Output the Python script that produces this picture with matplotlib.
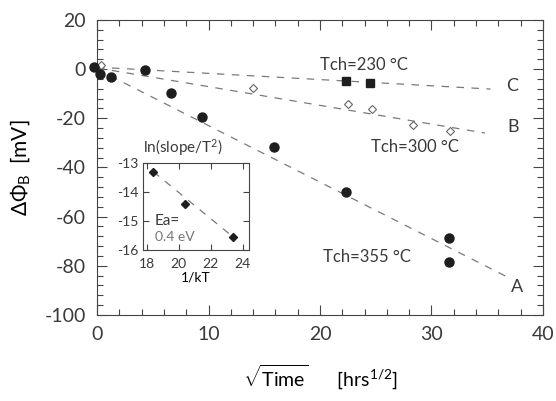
import matplotlib
matplotlib.use("Agg")
import matplotlib.pyplot as plt
from matplotlib.ticker import MultipleLocator

# Tch = 355 C, filled circles (curve A)
a_x = [-0.3, 0.3, 1.25, 4.3, 6.6, 9.4, 15.9, 22.3, 31.6, 31.6]
a_y = [1.0, -1.8, -3.2, -0.5, -9.7, -19.5, -31.7, -50.0, -68.7, -78.4]
# Tch = 300 C, open diamonds (curve B)
b_x = [0.4, 14.0, 22.5, 24.7, 28.3, 31.7]
b_y = [1.5, -7.8, -14.2, -16.2, -22.7, -25.2]
# Tch = 230 C, filled squares (curve C)
c_x = [22.3, 24.5]
c_y = [-4.8, -5.6]

# dashed guide lines (start, end)
fit_a_x, fit_a_y = [0, 37], [0, -85]
fit_b_x, fit_b_y = [0, 34.8], [0.5, -26]
fit_c_x, fit_c_y = [0, 35.3], [0.8, -8.1]

# Arrhenius inset
inv_kt = [18.4, 20.4, 23.4]
ln_slope = [-13.3, -14.4, -15.55]

txt = "#3a3a3a"
dash = "#7a7a7a"
plt.rcParams["font.family"] = ["Lato", "DejaVu Sans"]
plt.rcParams["mathtext.fontset"] = "custom"
plt.rcParams["mathtext.rm"] = "Lato"
plt.rcParams["mathtext.it"] = "Lato:italic"
plt.rcParams["text.color"] = txt
plt.rcParams["axes.edgecolor"] = "#444444"
plt.rcParams["xtick.color"] = "#444444"
plt.rcParams["ytick.color"] = "#444444"
plt.rcParams["xtick.labelcolor"] = txt
plt.rcParams["ytick.labelcolor"] = txt

fig = plt.figure(figsize=(5.56, 4.01), dpi=100)
ax = fig.add_axes([0.1745, 0.2145, 0.802, 0.7357])

ls = (0, (6, 6))
ax.plot(fit_a_x, fit_a_y, color=dash, lw=0.9, ls=ls)
ax.plot(fit_b_x, fit_b_y, color=dash, lw=0.9, ls=ls)
ax.plot(fit_c_x, fit_c_y, color=dash, lw=0.9, ls=ls)

ax.plot(a_x, a_y, "o", color="#1e1e1e", ms=6.5, ls="none", clip_on=False, zorder=4)
ax.plot(b_x, b_y, "D", mfc="white", mec="#666666", mew=0.8, ms=4.5, ls="none")
ax.plot(c_x, c_y, "s", color="#1e1e1e", ms=5.5, ls="none")

ax.text(23.9, 1.8, "Tch=230 °C", fontsize=12, ha="center", va="center")
ax.text(28.5, -31.7, "Tch=300 °C", fontsize=12, ha="center", va="center")
ax.text(24.2, -76.4, "Tch=355 °C", fontsize=12, ha="center", va="center")
ax.text(37.2, -7.0, "C", fontsize=13, ha="center", va="center")
ax.text(37.3, -23.5, "B", fontsize=13, ha="center", va="center")
ax.text(37.7, -88.6, "A", fontsize=13, ha="center", va="center")

ax.set_xlim(0, 40)
ax.set_ylim(-100, 20)
ax.xaxis.set_major_locator(MultipleLocator(10))
ax.xaxis.set_minor_locator(MultipleLocator(2))
ax.yaxis.set_major_locator(MultipleLocator(20))
ax.yaxis.set_minor_locator(MultipleLocator(4))
ax.tick_params(which="both", direction="in", top=True, right=True, labelsize=14, pad=8)
ax.tick_params(which="major", length=7, width=0.8)
ax.tick_params(which="minor", length=4, width=0.8)
ax.set_yticklabels([f"{v:g}" for v in ax.get_yticks()])

ax.set_ylabel(r"$\Delta\Phi_\mathrm{B}$  [mV]", fontsize=15, labelpad=9)
ax.set_xlabel(r"$\sqrt{\mathrm{Time}}$      [hrs$^{1/2}$]", fontsize=14, labelpad=14)

ins = fig.add_axes([0.257, 0.3766, 0.191, 0.217])
ins.plot([inv_kt[0], inv_kt[-1]], [ln_slope[0], ln_slope[-1]], color=dash, lw=0.9, ls=ls)
ins.plot(inv_kt, ln_slope, "D", color="#1e1e1e", ms=4.5, ls="none")
ins.set_xlim(17.75, 24.4)
ins.set_ylim(-16, -13)
ins.set_xticks([18, 20, 22, 24])
ins.set_yticks([-13, -14, -15, -16])
ins.set_yticklabels(["-13", "-14", "-15", "-16"])
ins.tick_params(direction="in", top=True, right=True, labelsize=10, length=4, width=0.8, pad=3)
ins.tick_params(axis="x", pad=6)
ins.set_xlabel("1/kT", fontsize=10, labelpad=1)
ins.text(18.5, -15.0, "Ea=", fontsize=11, va="center")
ins.text(18.5, -15.55, "0.4 eV", fontsize=10, va="center", color="#777777")
ins.text(0.0, 1.06, "ln(slope/T$^2$)", fontsize=11, transform=ins.transAxes, va="bottom")

fig.savefig("out.png", dpi=100)
